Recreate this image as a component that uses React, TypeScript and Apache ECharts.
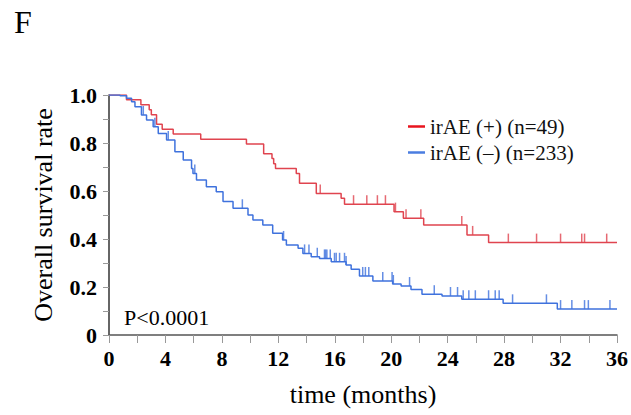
import React, { useEffect, useRef } from "react";
import * as echarts from "echarts";

// irAE (+) n=49 : event times (months) and survival after each step
const redTimes = [0, 1.24, 2.26, 2.85, 3.0, 3.37, 3.77, 4.55, 6.5, 9.74, 10.96, 11.55, 11.67, 11.8, 13.27, 13.5, 14.69, 16.45, 16.69, 20.2, 20.86, 22.3, 25.37, 26.9, 36];
const redSurv = [1.0, 0.98, 0.959, 0.939, 0.918, 0.878, 0.857, 0.837, 0.816, 0.796, 0.755, 0.735, 0.714, 0.694, 0.673, 0.632, 0.59, 0.57, 0.545, 0.514, 0.486, 0.458, 0.417, 0.385, 0.385];
const redCensor = [14.97, 17.33, 18.27, 19.02, 19.59, 20.3, 21.05, 22.1, 25.0, 25.77, 28.3, 30.3, 32.0, 33.5, 33.7, 35.27];

// irAE (–) n=233
const blueTimes = [0, 0.78, 1.24, 1.6, 1.84, 2.3, 2.66, 3.13, 3.49, 4.08, 4.67, 5.26, 5.85, 5.95, 6.2, 6.9, 7.6, 8.08, 8.79, 9.85, 10.2, 10.9, 11.6, 12.3, 12.57, 13.4, 13.74, 14.33, 14.92, 15.75, 16.8, 17.16, 17.75, 18.7, 20.1, 20.7, 21.4, 22.18, 23.6, 25.0, 27.93, 31.77, 36];
const blueSurv = [1.0, 0.997, 0.986, 0.972, 0.951, 0.917, 0.896, 0.868, 0.84, 0.8125, 0.764, 0.729, 0.694, 0.673, 0.646, 0.618, 0.597, 0.556, 0.528, 0.5, 0.479, 0.458, 0.424, 0.396, 0.375, 0.361, 0.34, 0.326, 0.319, 0.305, 0.292, 0.274, 0.246, 0.225, 0.2125, 0.204, 0.19, 0.17, 0.1625, 0.149, 0.132, 0.108, 0.108];
const blueCensor = [2.43, 3.25, 4.2, 6.08, 9.45, 12.37, 13.86, 14.17, 14.76, 15.27, 15.35, 15.44, 15.68, 15.98, 16.1, 16.34, 16.69, 16.8, 17.98, 18.17, 18.41, 19.4, 20.06, 20.15, 21.3, 23.05, 24.2, 24.7, 25.1, 25.5, 25.96, 26.9, 27.37, 27.65, 28.6, 31.0, 32.0, 32.8, 33.7, 33.97, 35.5];

const seriesNames = ["irAE (+) (n=49)", "irAE (\u2013) (n=233)"];
const xTicks = { min: 0, max: 36, interval: 2, labelEvery: 4 };
const yTicks = { min: 0, max: 1, interval: 0.1 };

const SERIF = "'Liberation Serif', 'Times New Roman', serif";

function survAt(times: number[], surv: number[], t: number) {
  let v = surv[0];
  for (let i = 0; i < times.length; i++) {
    if (times[i] <= t) v = surv[i];
  }
  return v;
}

export default function App() {
  const ref = useRef<HTMLDivElement>(null);
  useEffect(() => {
    if (!ref.current) return;
    const chart = echarts.init(ref.current, undefined, { renderer: "svg" });
    const redLine = "#e0444f";
    const blueLine = "#3f72dd";
    const censorSeries = (times: number[], surv: number[], cens: number[], color: string) => ({
      type: "scatter",
      silent: true,
      symbol: "rect",
      symbolSize: [1.5, 9],
      symbolOffset: [0, "-50%"],
      itemStyle: { color },
      data: cens.map((t) => [t, survAt(times, surv, t)]),
      z: 3,
    });
    chart.setOption({
      animation: false,
      backgroundColor: "#ffffff",
      grid: { left: 109, right: 13, top: 95, bottom: 80 },
      legend: {
        data: seriesNames,
        orient: "vertical",
        left: 408,
        top: 116,
        padding: 0,
        icon: "rect",
        itemWidth: 17,
        itemHeight: 2.5,
        itemGap: 5,
        textStyle: { fontFamily: SERIF, fontSize: 21, color: "#111", lineHeight: 21 },
      },
      xAxis: {
        type: "value",
        min: xTicks.min,
        max: xTicks.max,
        interval: xTicks.interval,
        name: "time (months)",
        nameLocation: "middle",
        nameGap: 46,
        nameTextStyle: { fontFamily: SERIF, fontSize: 26, color: "#000" },
        axisLine: { lineStyle: { color: "#555", width: 1.5 } },
        axisTick: { length: 8, lineStyle: { color: "#999", width: 1 } },
        axisLabel: {
          margin: 12,
          fontFamily: SERIF,
          fontWeight: "bold",
          fontSize: 22,
          color: "#000",
          formatter: (v: number) => (v % xTicks.labelEvery === 0 ? String(v) : ""),
        },
        splitLine: { show: false },
      },
      yAxis: {
        type: "value",
        min: yTicks.min,
        max: yTicks.max,
        interval: yTicks.interval,
        name: "Overall survival rate",
        nameLocation: "middle",
        nameGap: 53,
        nameTextStyle: { fontFamily: SERIF, fontSize: 26, color: "#000" },
        axisLine: { show: true, lineStyle: { color: "#333", width: 1.5 } },
        axisTick: { show: true, length: 6, lineStyle: { color: "#999", width: 1 } },
        axisLabel: {
          margin: 12,
          fontFamily: SERIF,
          fontWeight: "bold",
          fontSize: 22,
          color: "#000",
          formatter: (v: number) => {
            const k = Math.round(v * 10);
            if (k % 2 !== 0) return "";
            return k === 0 ? "0" : v.toFixed(1);
          },
        },
        splitLine: { show: false },
      },
      graphic: [
        { type: "text", left: 14, top: 6, style: { text: "F", font: `32px ${SERIF}`, fill: "#000" } },
        { type: "text", left: 124, top: 306, style: { text: "P<0.0001", font: `22px ${SERIF}`, fill: "#000" } },
      ],
      series: [
        {
          name: seriesNames[0],
          type: "line",
          step: "end",
          showSymbol: false,
          symbol: "none",
          lineStyle: { color: redLine, width: 1.5 },
          itemStyle: { color: "#e8141e" },
          data: redTimes.map((t, i) => [t, redSurv[i]]),
          z: 2,
        },
        {
          name: seriesNames[1],
          type: "line",
          step: "end",
          showSymbol: false,
          symbol: "none",
          lineStyle: { color: blueLine, width: 1.5 },
          itemStyle: { color: "#4a7de0" },
          data: blueTimes.map((t, i) => [t, blueSurv[i]]),
          z: 2,
        },
        censorSeries(redTimes, redSurv, redCensor, redLine),
        censorSeries(blueTimes, blueSurv, blueCensor, blueLine),
      ],
    });
    return () => chart.dispose();
  }, []);
  return (
    <div
      ref={ref}
      style={{ position: "absolute", left: 0, top: 0, width: 631, height: 415 }}
    />
  );
}
